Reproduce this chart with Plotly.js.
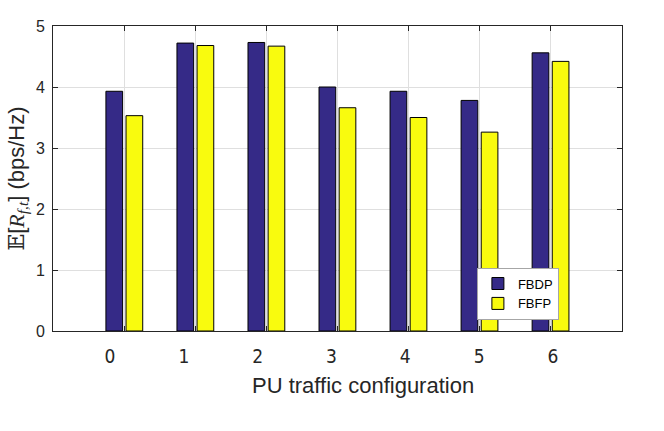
<!DOCTYPE html>
<html>
<head>
<meta charset="utf-8">
<script src="https://cdn.plot.ly/plotly-3.0.1.min.js"></script>
<style>
	html, body { margin: 0; padding: 0; background: white; }
	#chart { width: 664px; height: 431px; }
</style>
</head>
<body>
<div id="chart"></div>
<script>
// PU traffic configurations
const configs = [0, 1, 2, 3, 4, 5, 6]
const tick_labels = ["0", "1", "2", "3", "4", "5", "6"]

// average rate, bps/Hz
const fbdp = [3.93, 4.72, 4.73, 4.00, 3.93, 3.78, 4.56]
const fbfp = [3.53, 4.68, 4.67, 3.66, 3.50, 3.26, 4.42]

const dark = "#262626"

var blue_bars = {
	x: configs,
	y: fbdp,
	name: "FBDP",
	type: "bar",
	width: 0.235,
	offset: -0.255,
	marker: { color: "#352a87", line: { color: "#000000", width: 1 } }
}

var yellow_bars = {
	x: configs,
	y: fbfp,
	name: "FBFP",
	type: "bar",
	width: 0.235,
	offset: 0.028,
	marker: { color: "#f9fb0e", line: { color: "#000000", width: 1 } }
}

// invisible trace, only carries the (shifted) tick labels of the second x axis
var label_axis = {
	x: configs,
	y: Array(configs.length).fill(0),
	xaxis: "x2",
	type: "scatter",
	mode: "markers",
	marker: { opacity: 0 },
	showlegend: false,
	hoverinfo: "skip"
}

var layout = {
	width: 664,
	height: 431,
	margin: { l: 53, r: 42, t: 26, b: 100, pad: 0 },
	paper_bgcolor: "white",
	plot_bgcolor: "white",
	font: { family: "Liberation Sans, Arial, sans-serif", color: dark },
	showlegend: true,
	legend: {
		x: 0.745,
		y: 0.208,
		xanchor: "left",
		yanchor: "top",
		bgcolor: "white",
		bordercolor: "#a6a6a6",
		borderwidth: 1,
		font: { size: 13, color: "#000000" },
		tracegroupgap: 0,
		itemwidth: 30
	},
	xaxis: {
		range: [-1, 7.01],
		tickvals: configs,
		showticklabels: false,
		ticks: "inside",
		ticklen: 5,
		tickcolor: dark,
		showgrid: true,
		gridcolor: "#dfdfdf",
		gridwidth: 1,
		zeroline: false,
		showline: true,
		linecolor: dark,
		linewidth: 1,
		mirror: "ticks"
	},
	xaxis2: {
		overlaying: "x",
		side: "bottom",
		range: [-0.772, 6.935],
		tickvals: configs,
		ticktext: tick_labels,
		ticks: "",
		showgrid: false,
		zeroline: false,
		showline: false,
		ticklabelstandoff: 12,
		tickfont: { family: "DejaVu Sans Condensed, Liberation Sans Narrow, sans-serif", size: 19, color: dark }
	},
	yaxis: {
		range: [0, 5],
		dtick: 1,
		ticks: "inside",
		ticklen: 5,
		tickcolor: dark,
		tickfont: { size: 16, color: dark },
		ticklabelstandoff: 4,
		showgrid: true,
		gridcolor: "#dfdfdf",
		gridwidth: 1,
		zeroline: false,
		showline: true,
		linecolor: dark,
		linewidth: 1,
		mirror: "ticks",
		title: {
			text: "<span style=\"font-family:DejaVu Serif\">𝔼</span>[<i style=\"font-family:Liberation Serif\">R</i><sub><i style=\"font-family:Liberation Serif\">f,t</i></sub>] (bps/Hz)",
			font: { size: 22, color: dark },
			standoff: 5
		}
	},
	annotations: [{
		text: "PU traffic configuration",
		xref: "paper",
		yref: "paper",
		x: 0.545,
		y: -0.13,
		xanchor: "center",
		yanchor: "top",
		showarrow: false,
		font: { size: 22, color: dark }
	}]
}

var config = { displayModeBar: false, staticPlot: true }

Plotly.newPlot("chart", [blue_bars, yellow_bars, label_axis], layout, config)
</script>
</body>
</html>
